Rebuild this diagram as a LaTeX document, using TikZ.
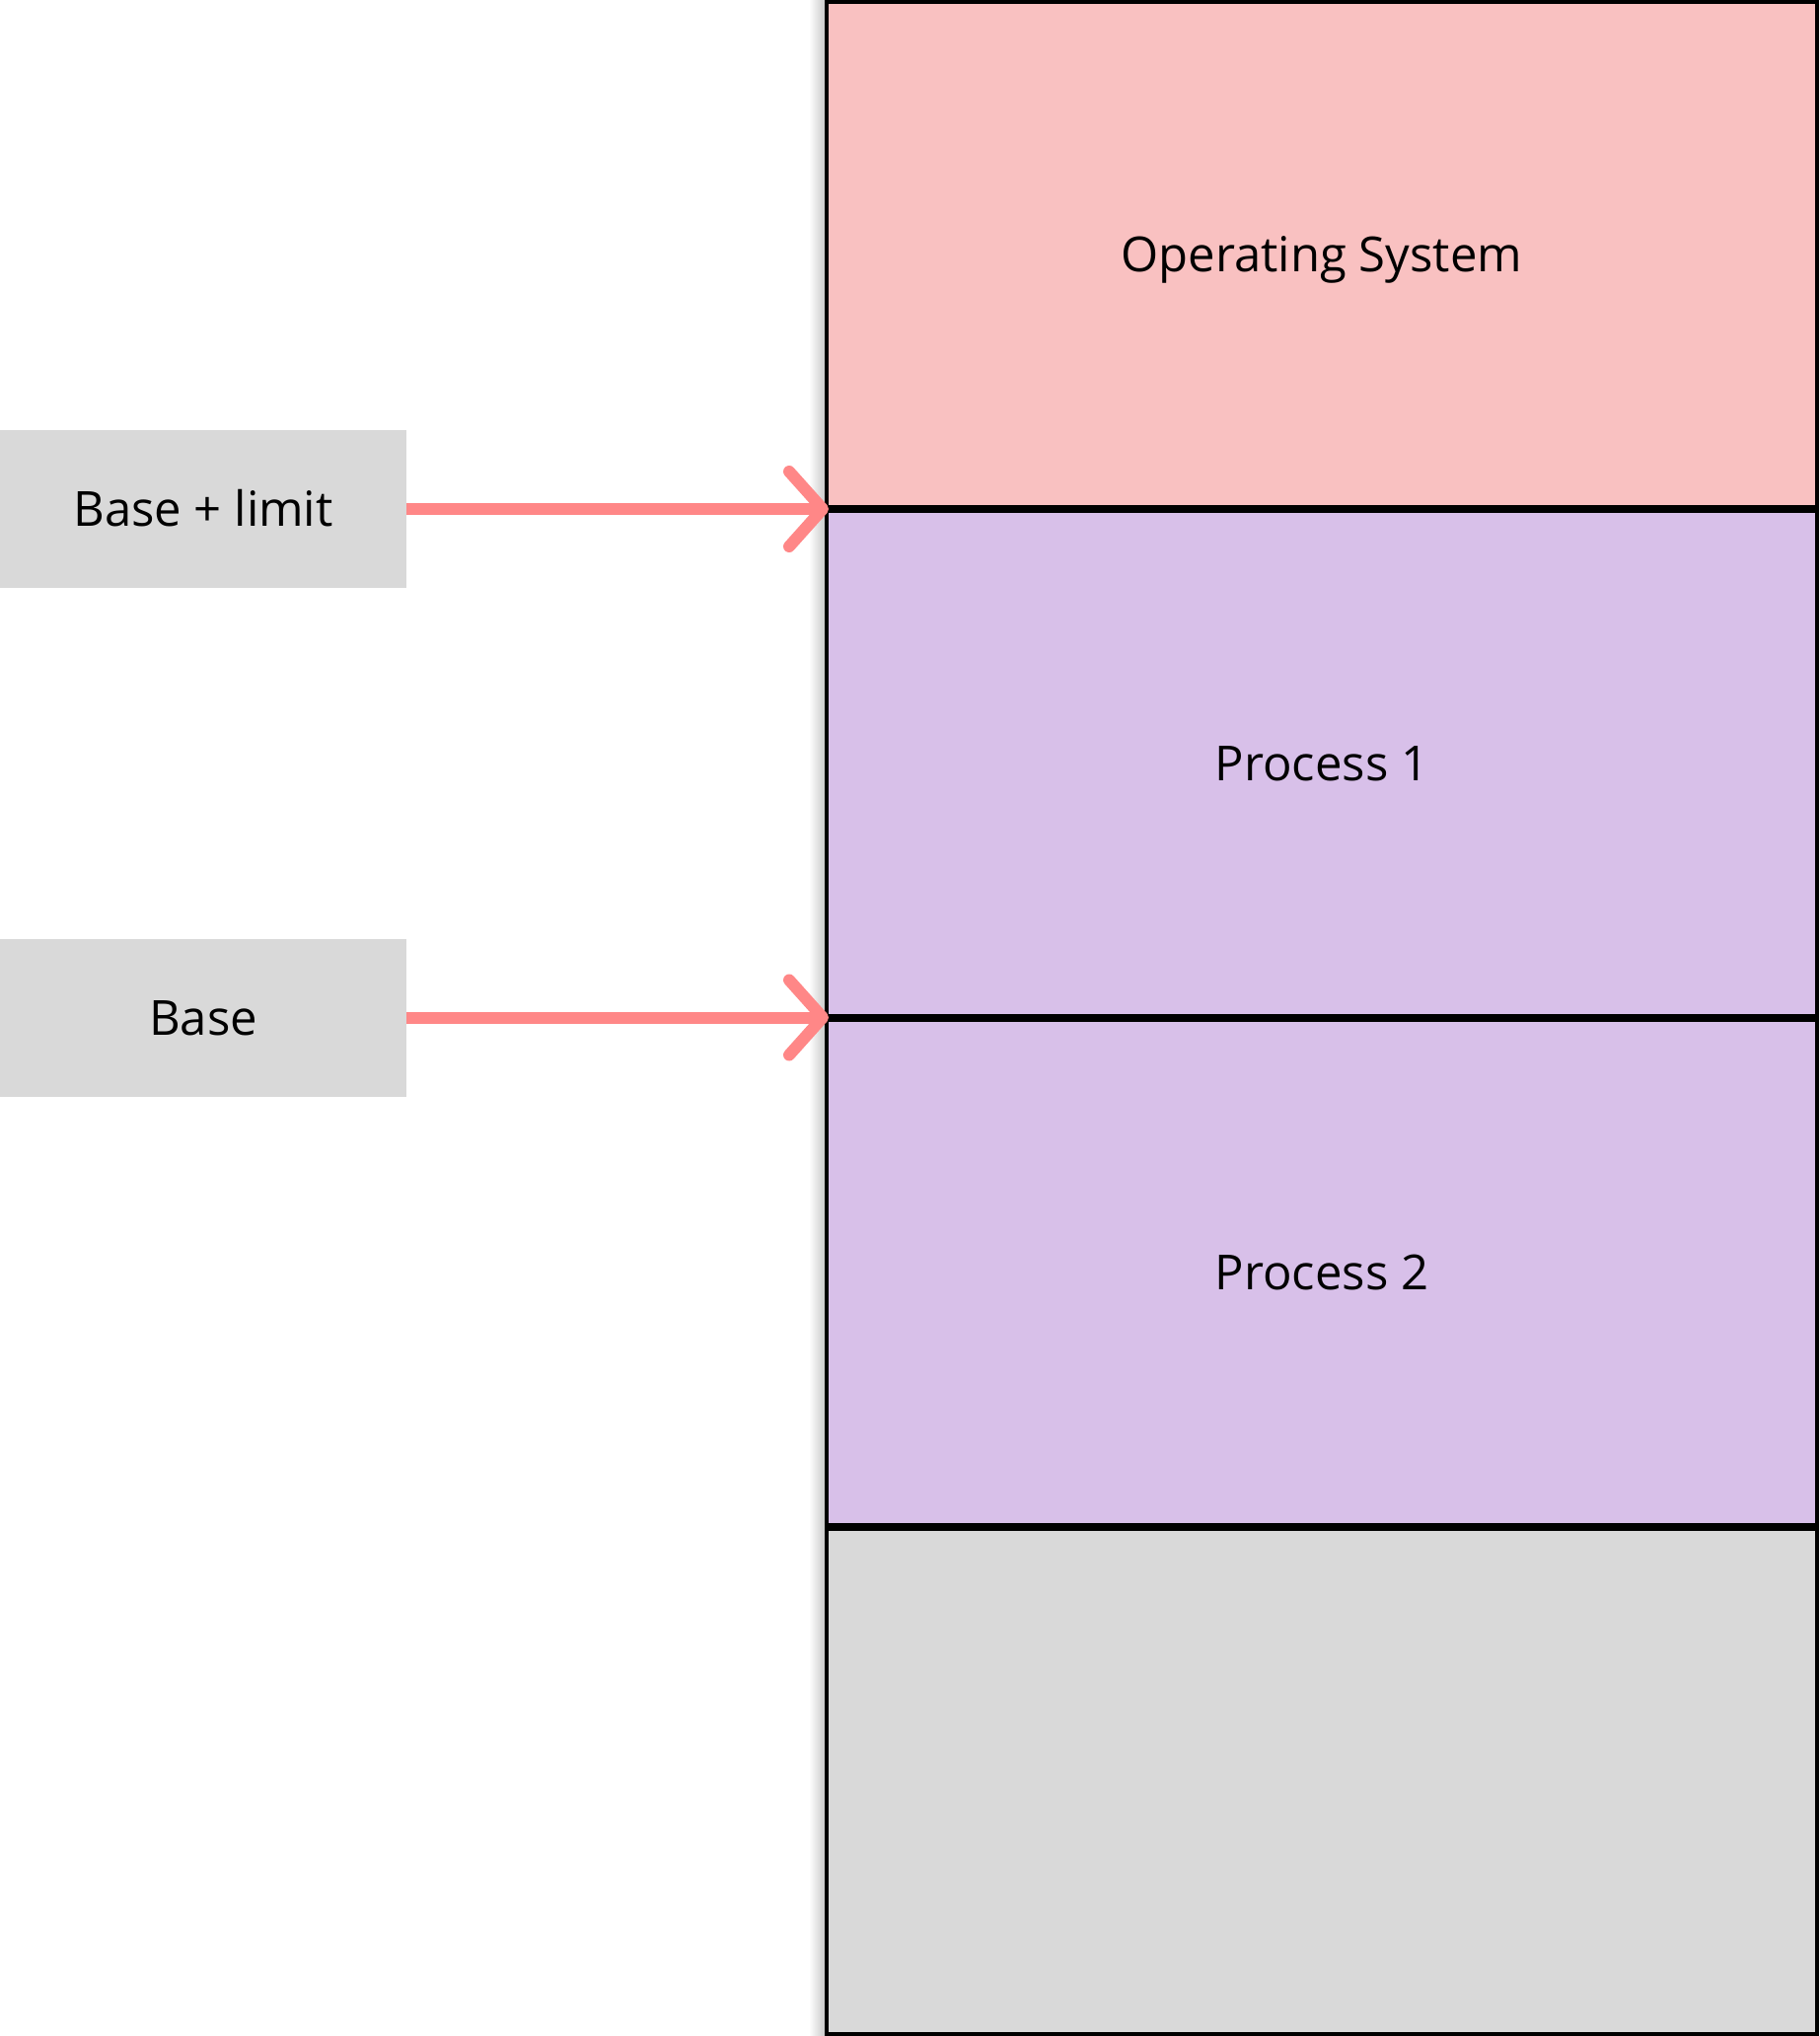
\documentclass[tikz,border=0pt]{standalone}
\usepackage{fontspec}
\setmainfont{Open Sans}
\usetikzlibrary{arrows.meta}
\definecolor{ospink}{HTML}{F9C1C1}
\definecolor{procpurple}{HTML}{D8C0E9}
\definecolor{freegray}{HTML}{D9D9D9}
\definecolor{arrowred}{HTML}{FF8787}
\tikzset{
  lbl/.style={font=\fontsize{24.5}{29}\selectfont, text height=17.5pt, text depth=0pt},
  memsec/.style={lbl, draw=black, line width=2pt, minimum width=502pt, minimum height=256pt, inner sep=0pt},
  regbox/.style={lbl, fill=freegray, minimum width=206pt, minimum height=80pt, inner sep=0pt},
  ptr/.style={draw=arrowred, line width=6pt, -{Straight Barb[length=17pt,width=38pt,round]}, shorten >=-2pt}
}
\begin{document}
\begin{tikzpicture}[x=0.5pt,y=-0.5pt]
\useasboundingbox (0,0) rectangle (1844,2064);
\fill[white] (0,0) rectangle (1844,2064);
\shade[left color=white, right color=black!22] (820,0) rectangle (837,2064);
\node[memsec, fill=ospink] (os) at (1340,258) {Operating System};
\node[memsec, fill=procpurple] (p1) at (1340,774) {Process 1};
\node[memsec, fill=procpurple] (p2) at (1340,1290) {Process 2};
\node[memsec, fill=freegray] (free) at (1340,1806) {};
\node[regbox] (bl) at (206,516) {Base + limit};
\node[regbox] (b) at (206,1031.5) {Base};
\draw[ptr] (bl.east) -- (bl.east -| os.west);
\draw[ptr] (b.east) -- (b.east -| p1.west);
\end{tikzpicture}
\end{document}
